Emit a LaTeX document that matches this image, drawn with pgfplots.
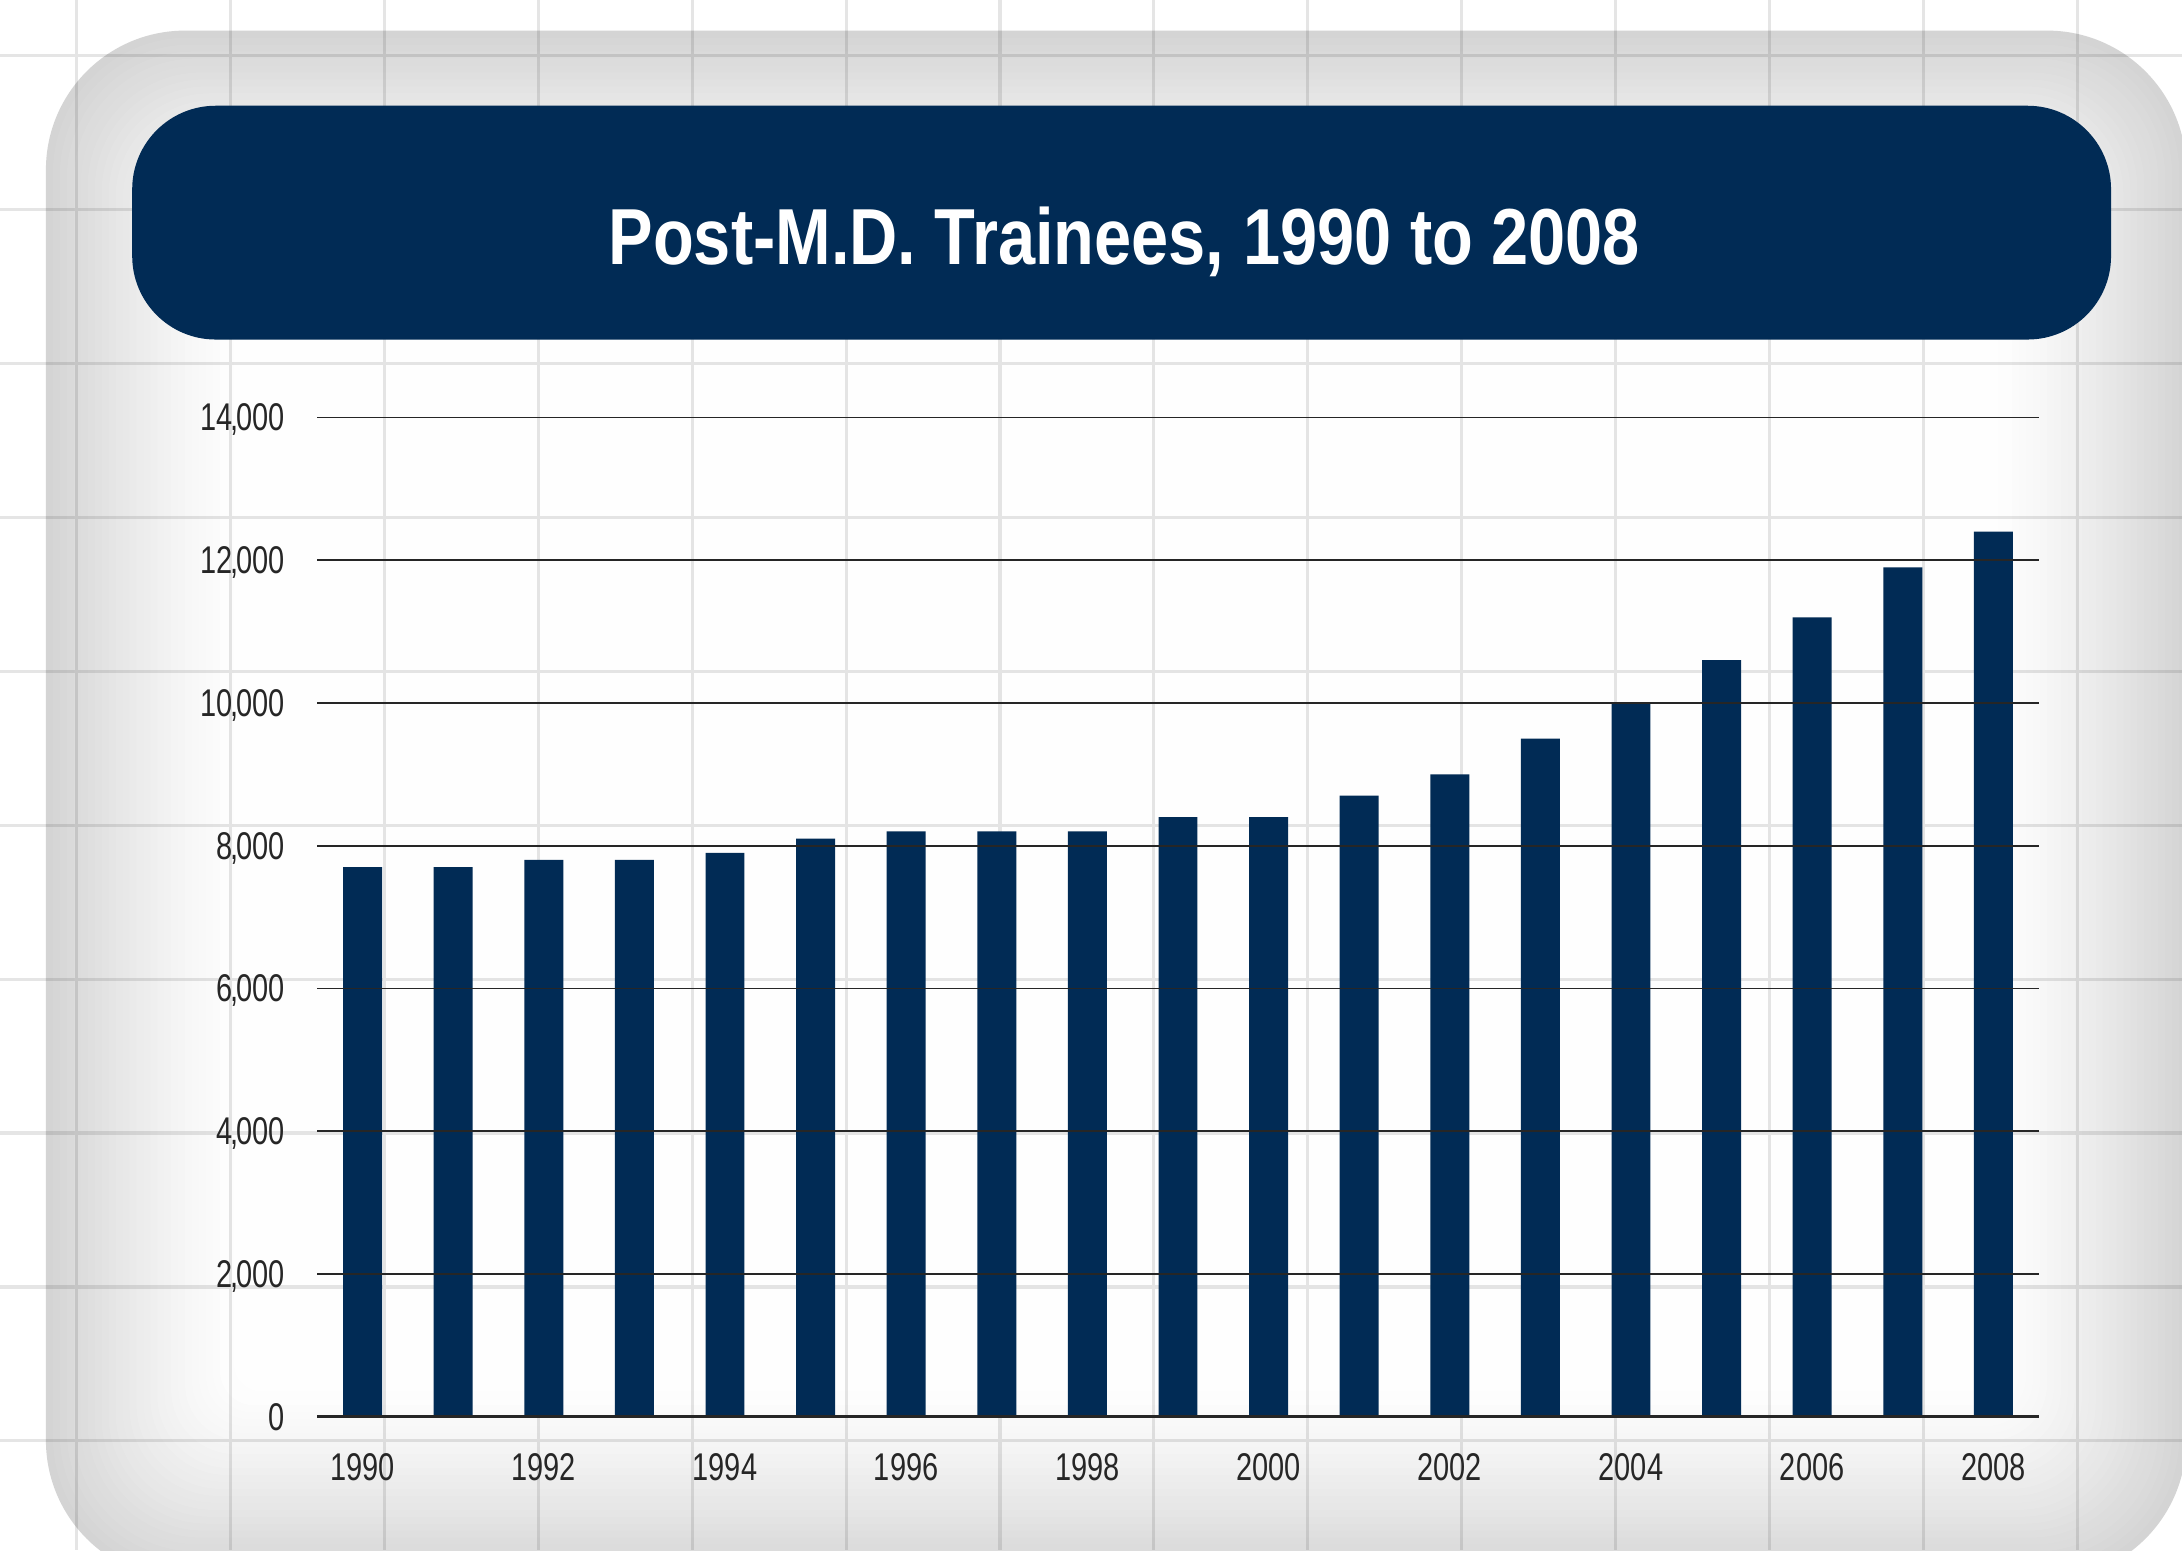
\documentclass[border=0pt]{standalone}
\usepackage{pgfplots}
\pgfplotsset{compat=1.18}
\usepackage{fontspec}
\setmainfont{Liberation Sans}
\newfontfamily\titlefont[FakeStretch=0.84]{Liberation Sans}
\newfontfamily\tickfont[FakeStretch=0.75]{Liberation Sans}
\definecolor{navy}{HTML}{012B55}

\begin{document}
\begin{tikzpicture}[x=0.2mm, y=0.2mm]
\useasboundingbox (0,0) rectangle (1568,1114);
\clip (0,0) rectangle (1568,1114);
\fill[white] (0,0) rectangle (1568,1114);

% grey panel with a soft inner rim, built from stacked rounded rectangles
\foreach \d in {0,5,...,135} {
  \pgfmathsetmacro\lev{1-0.17*(1-\d/140)^1.3}
  \definecolor{glow}{gray}{\lev}
  \pgfmathsetmacro\rr{max(100-\d*0.6,20)}
  \fill[glow, rounded corners=\rr*0.2mm] (33+\d,1092-\d) rectangle (1571-\d,-21+\d);
}

% background paper grid
\draw[black, opacity=0.1, line width=0.45mm]
  foreach \gx in {0,...,13} {({55+110.6*\gx},0) -- ++(0,1114)}
  foreach \gy in {0,...,9} {(0,{1074-110.6*\gy}) -- ++(1568,0)};

% title banner
\fill[navy, rounded corners=12mm] (95,1038) rectangle (1517,870);
\node[anchor=base, text=white, inner sep=0pt,
      font=\titlefont\bfseries\fontsize{32.5}{36}\selectfont] at (808,924)
  {Post-M.D. Trainees, 1990 to 2008};

\coordinate (plotorigin) at (228,96);
\begin{axis}[
    at={(plotorigin)}, anchor=south west,
    scale only axis, width=247.4mm, height=143.6mm,
    xmin=1989.5, xmax=2008.5, ymin=0, ymax=14000,
    enlargelimits=false,
    axis line style={draw=none},
    major tick length=0pt,
    axis on top,
    ymajorgrids, major grid style={black!85, line width=0.25mm},
    xtick={1990,1992,...,2008},
    ytick={0,2000,...,14000},
    scaled y ticks=false,
    extra y ticks={0}, extra y tick labels={},
    extra y tick style={major grid style={black!85, line width=0.45mm}},
    /pgf/number format/assume math mode=true,
    ticklabel style={font=\tickfont\fontsize{15.8}{18}\selectfont, text=black!85},
    x tick label style={/pgf/number format/1000 sep={}, anchor=north, inner sep=0pt, yshift=-5.2mm},
    y tick label style={/pgf/number format/fixed, /pgf/number format/1000 sep={\kern-0.05em,\kern-0.05em}, anchor=east, inner sep=0pt, text depth=0pt, xshift=-4.6mm},
]
\addplot[ybar, bar width=0.43, fill=navy, draw=none] coordinates {
    (1990, 7700) (1991, 7700) (1992, 7800) (1993, 7800) (1994, 7900)
    (1995, 8100) (1996, 8200) (1997, 8200) (1998, 8200) (1999, 8400)
    (2000, 8400) (2001, 8700) (2002, 9000) (2003, 9500) (2004, 10000)
    (2005, 10600) (2006, 11200) (2007, 11900) (2008, 12400)
};
\end{axis}
\end{tikzpicture}
\end{document}
